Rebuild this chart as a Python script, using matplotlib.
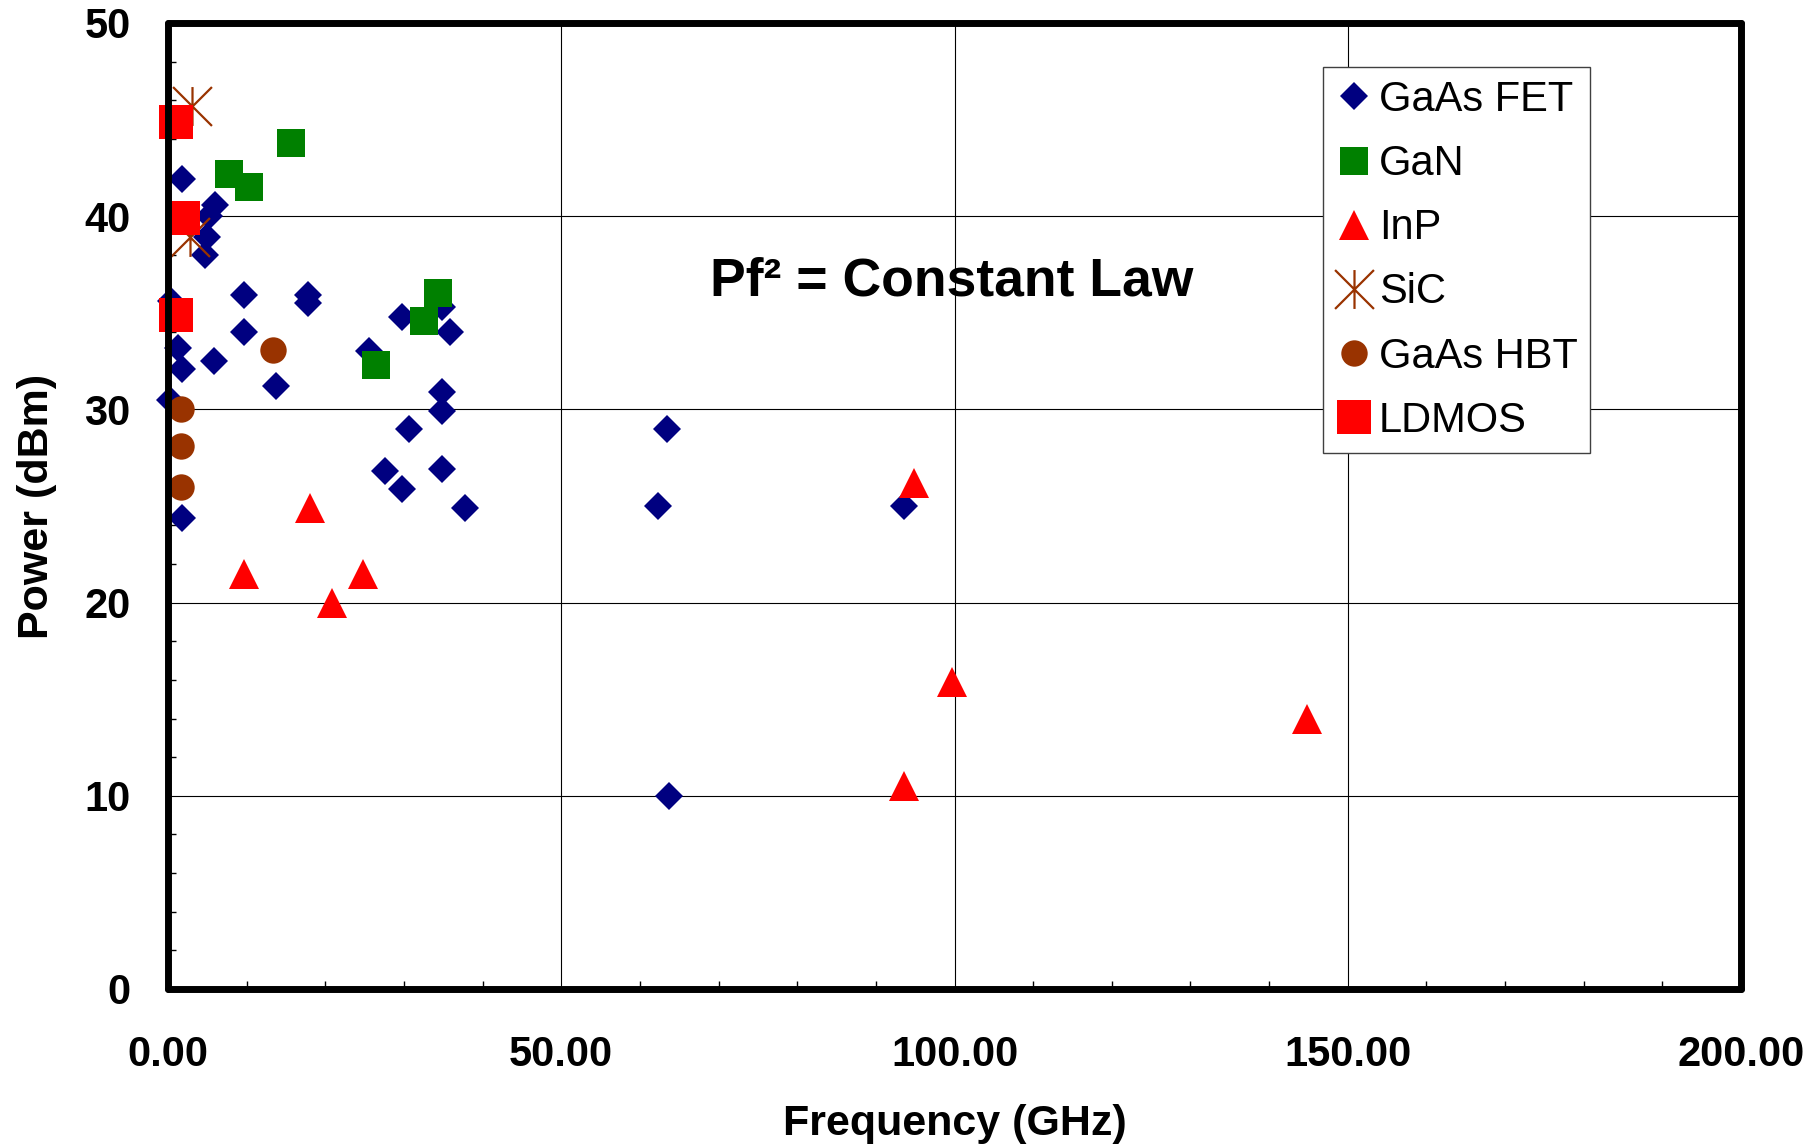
import numpy as np
import matplotlib
matplotlib.use('Agg')
import matplotlib.pyplot as plt
from matplotlib.path import Path
from matplotlib.ticker import MultipleLocator, FormatStrFormatter

plt.rcParams['font.family'] = ['Liberation Sans', 'DejaVu Sans']

# data (GHz, dBm)
fet_f = [1.8, 0.4, 1.3, 1.8, 0.2, 1.8, 6.0, 5.2, 4.9, 4.7, 9.6, 17.8, 17.8, 9.6, 5.8,
         13.7, 25.5, 29.7, 34.9, 35.9, 34.9, 34.9, 30.7, 27.6, 29.7, 34.9, 37.8,
         63.4, 62.3, 63.7, 93.6]
fet_p = [41.9, 35.6, 33.2, 32.1, 30.5, 24.4, 40.6, 40.0, 38.9, 38.0, 35.9, 35.9, 35.5, 34.0, 32.5,
         31.2, 33.0, 34.8, 35.3, 34.0, 30.9, 29.9, 29.0, 26.8, 25.9, 26.9, 24.9,
         29.0, 25.0, 10.0, 25.0]

gan_f = [15.7, 7.7, 10.3, 34.3, 32.5, 26.4]
gan_p = [43.8, 42.2, 41.5, 36.0, 34.6, 32.3]

inp_f = [9.6, 18.0, 20.8, 24.8, 94.8, 93.6, 99.7, 144.8]
inp_p = [21.5, 24.9, 20.0, 21.5, 26.2, 10.5, 15.9, 14.0]

sic_f = [3.0, 2.8]
sic_p = [45.7, 38.9]

hbt_f = [13.4, 1.6, 1.6, 1.6]
hbt_p = [33.1, 30.0, 28.1, 26.0]

ldmos_f = [1.0, 1.9, 1.0]
ldmos_p = [44.9, 39.9, 34.9]

# Excel style star: x with a vertical bar
star = Path([(-1, -1), (1, 1), (-1, 1), (1, -1), (0, -1), (0, 1)],
            [Path.MOVETO, Path.LINETO, Path.MOVETO, Path.LINETO, Path.MOVETO, Path.LINETO])

fig = plt.figure(figsize=(18.2, 11.47), dpi=100)
ax = fig.add_axes([168 / 1820, 158 / 1147, 1573 / 1820, 966 / 1147])

kw = dict(linestyle='none', clip_on=False, markeredgewidth=0)
ax.plot(fet_f, fet_p, marker='D', color='#000080', markersize=14.5, label='GaAs FET', **kw)
ax.plot(gan_f, gan_p, marker='s', color='#008000', markersize=20, label='GaN', **kw)
ax.plot(inp_f, inp_p, marker='^', color='#FF0000', markersize=21, label='InP', **kw)
ax.plot(sic_f, sic_p, marker=star, color='#993300', markersize=28, markeredgewidth=1.6,
        fillstyle='none', linestyle='none', clip_on=False, label='SiC')
ax.plot(hbt_f, hbt_p, marker='o', color='#993300', markersize=19, label='GaAs HBT', **kw)
ax.plot(ldmos_f, ldmos_p, marker='s', color='#FF0000', markersize=25, label='LDMOS', **kw)

ax.set_xlim(0, 200)
ax.set_ylim(0, 50)
ax.xaxis.set_major_locator(MultipleLocator(50))
ax.xaxis.set_minor_locator(MultipleLocator(10))
ax.yaxis.set_major_locator(MultipleLocator(10))
ax.yaxis.set_minor_locator(MultipleLocator(2))
ax.xaxis.set_major_formatter(FormatStrFormatter('%.2f'))
ax.grid(which='major', color='black', linewidth=0.8)
ax.set_axisbelow(True)

ax.tick_params(which='major', length=0, labelsize=30, pad=27)
ax.tick_params(axis='x', which='major', pad=33)
ax.tick_params(which='minor', direction='in', length=6, width=1)
for lab in ax.get_xticklabels() + ax.get_yticklabels():
    lab.set_fontweight('bold')

for sp in ax.spines.values():
    sp.set_linewidth(5)
    sp.set_capstyle('round')

ax.set_xlabel('Frequency (GHz)', fontsize=31, fontweight='bold')
ax.set_ylabel('Power (dBm)', fontsize=31, fontweight='bold')
ax.xaxis.label.set_va('center')
ax.yaxis.label.set_va('center')
ax.xaxis.set_label_coords(0.5, -0.14)
ax.yaxis.set_label_coords(-0.083, 0.5)

ax.text(99.7, 36.6, 'Pf² = Constant Law', fontsize=38.5, fontweight='bold',
        ha='center', va='center')

leg = ax.legend(loc='upper left', bbox_to_anchor=(0.734, 0.954), borderaxespad=0,
                fontsize=30, frameon=True, fancybox=False, framealpha=1,
                edgecolor='#404040', handlelength=0.9, handletextpad=0.15,
                labelspacing=0.58, borderpad=0.3, numpoints=1)
leg.get_frame().set_linewidth(1)

plt.savefig('out.png', dpi=100)
plt.close()
